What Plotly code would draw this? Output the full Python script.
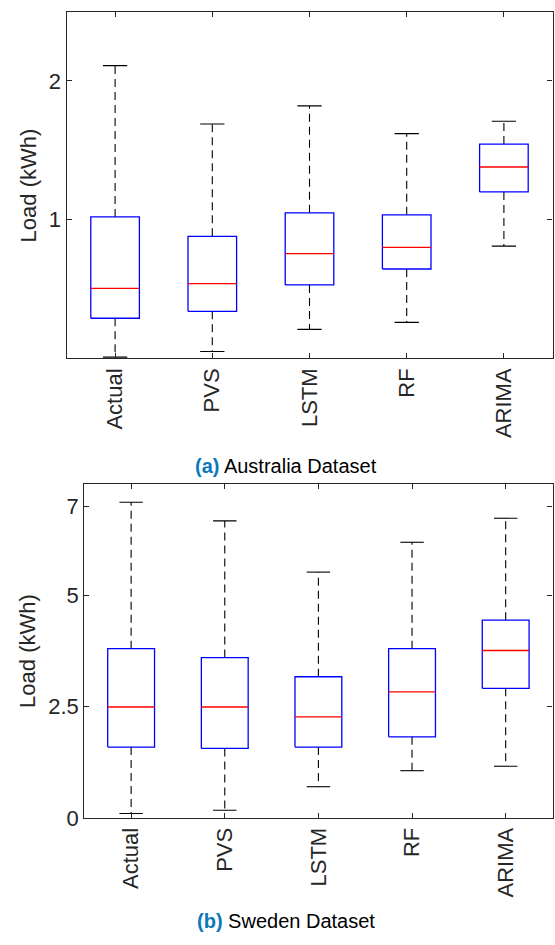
import plotly.graph_objects as go

categories = ["Actual", "PVS", "LSTM", "RF", "ARIMA"]

# Australia dataset (kWh)
aus_lower = [0.01, 0.05, 0.21, 0.26, 0.81]
aus_q1 = [0.29, 0.34, 0.53, 0.645, 1.20]
aus_median = [0.505, 0.54, 0.755, 0.80, 1.38]
aus_q3 = [1.02, 0.88, 1.05, 1.035, 1.545]
aus_upper = [2.11, 1.69, 1.82, 1.62, 1.71]

# Sweden dataset (kWh)
swe_lower = [0.10, 0.17, 0.70, 1.06, 1.16]
swe_q1 = [1.59, 1.56, 1.59, 1.82, 2.91]
swe_median = [2.49, 2.49, 2.27, 2.83, 3.76]
swe_q3 = [3.80, 3.60, 3.17, 3.80, 4.44]
swe_upper = [7.09, 6.67, 5.52, 6.19, 6.73]

aus_yticks = [1, 2]
swe_yticks = [0, 2.5, 5, 7]

W, H = 555, 945
BOX_HALF = 0.25
CAP_HALF = 0.125
AX = "#262626"
FONT = "Liberation Sans, Arial, sans-serif"

fig = go.Figure()


def add_boxes(lower, q1, med, q3, upper, xa, ya):
    xs_box, ys_box = [], []
    xs_med, ys_med = [], []
    xs_wh, ys_wh = [], []
    xs_cap, ys_cap = [], []
    for i in range(len(categories)):
        x = i + 1
        xs_box += [x - BOX_HALF, x + BOX_HALF, x + BOX_HALF, x - BOX_HALF, x - BOX_HALF, None]
        ys_box += [q1[i], q1[i], q3[i], q3[i], q1[i], None]
        xs_med += [x - BOX_HALF, x + BOX_HALF, None]
        ys_med += [med[i], med[i], None]
        xs_wh += [x, x, None, x, x, None]
        ys_wh += [q3[i], upper[i], None, q1[i], lower[i], None]
        xs_cap += [x - CAP_HALF, x + CAP_HALF, None, x - CAP_HALF, x + CAP_HALF, None]
        ys_cap += [upper[i], upper[i], None, lower[i], lower[i], None]
    common = dict(mode="lines", xaxis=xa, yaxis=ya, showlegend=False, hoverinfo="skip")
    fig.add_trace(go.Scatter(x=xs_wh, y=ys_wh, line=dict(color="black", width=1.1, dash="8px,5px"), **common))
    fig.add_trace(go.Scatter(x=xs_cap, y=ys_cap, line=dict(color="black", width=1.1), **common))
    fig.add_trace(go.Scatter(x=xs_box, y=ys_box, line=dict(color="#0000ff", width=1.3), **common))
    fig.add_trace(go.Scatter(x=xs_med, y=ys_med, line=dict(color="#ff0000", width=1.3), **common))


add_boxes(aus_lower, aus_q1, aus_median, aus_q3, aus_upper, "x", "y")
add_boxes(swe_lower, swe_q1, swe_median, swe_q3, swe_upper, "x2", "y2")

tickfont = dict(family=FONT, size=22, color=AX)
xcommon = dict(
    range=[0.5, 5.5], tickvals=[1, 2, 3, 4, 5], ticktext=categories, tickangle=-90,
    ticks="inside", ticklen=5, tickcolor=AX, tickwidth=1,
    showline=True, linecolor=AX, linewidth=1.2, mirror="ticks",
    showgrid=False, zeroline=False, tickfont=tickfont, fixedrange=True,
)
ycommon = dict(
    ticks="inside", ticklen=5, tickcolor=AX, tickwidth=1,
    showline=True, linecolor=AX, linewidth=1.2, mirror="ticks",
    showgrid=False, zeroline=False, tickfont=tickfont, fixedrange=True,
)

fig.update_layout(
    width=W, height=H,
    margin=dict(l=0, r=0, t=0, b=0),
    paper_bgcolor="white", plot_bgcolor="white",
    xaxis=dict(domain=[66.5 / W, 552.5 / W], anchor="y", **xcommon),
    yaxis=dict(domain=[1 - 363.5 / H, 1 - 11.7 / H], anchor="x", range=[0, 2.5],
               tickvals=aus_yticks, ticktext=[str(v) for v in aus_yticks], **ycommon),
    xaxis2=dict(domain=[84.3 / W, 552.5 / W], anchor="y2", **xcommon),
    yaxis2=dict(domain=[1 - 829.3 / H, 1 - 490.7 / H], anchor="x2", range=[0, 7.5],
                tickvals=swe_yticks, ticktext=[str(v) for v in swe_yticks], **ycommon),
)

annos = [
    dict(text="Load (kWh)", x=28 / W, y=1 - 188 / H, textangle=-90),
    dict(text="Load (kWh)", x=28 / W, y=1 - 660 / H, textangle=-90),
    dict(text="<b><span style='color:#0b78bb'>(a)</span></b> Australia Dataset", x=286 / W, y=1 - 472 / H),
    dict(text="<b><span style='color:#0b78bb'>(b)</span></b> Sweden Dataset", x=286 / W, y=1 - 934 / H),
]
for i, a in enumerate(annos):
    size = 22 if i < 2 else 20
    fig.add_annotation(xref="paper", yref="paper", showarrow=False, xanchor="center", yanchor="middle",
                       font=dict(family=FONT, size=size, color=AX if i < 2 else "black"), **a)

fig.write_html("out.html")
